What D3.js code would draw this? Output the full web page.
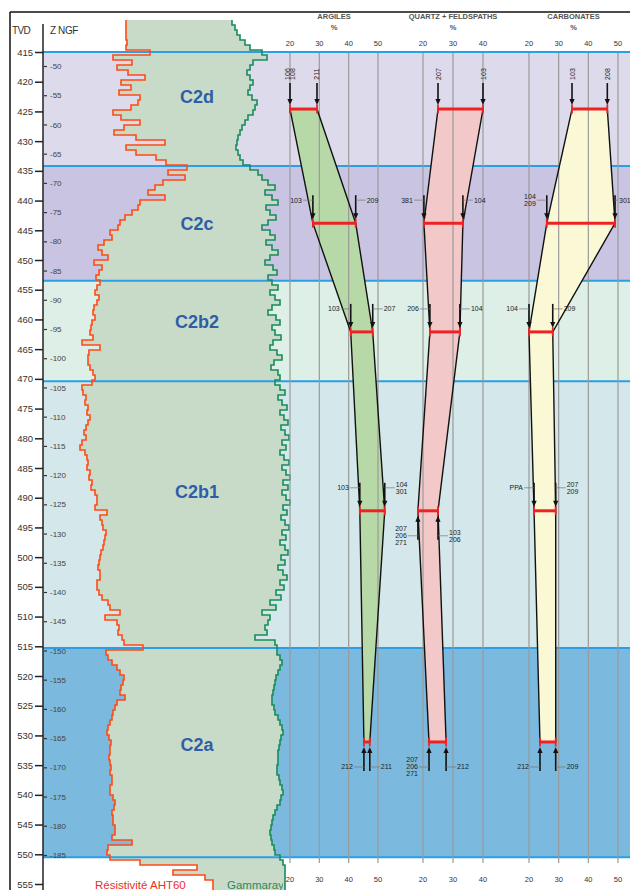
<!DOCTYPE html>
<html><head><meta charset="utf-8">
<script src="https://cdn.jsdelivr.net/npm/d3@7"></script>
<style>body{margin:0;background:#fff} svg{display:block;font-family:"Liberation Sans",Arial,sans-serif}</style>
</head><body><svg id="c" width="630" height="890"></svg>
<script>
// ---------------- DATA ----------------
const tvdTicks = [415,420,425,430,435,440,445,450,455,460,465,470,475,480,485,490,495,500,505,510,515,520,525,530,535,540,545,550,555];
const zngfTicks = [-50,-55,-60,-65,-70,-75,-80,-85,-90,-95,-100,-105,-110,-115,-120,-125,-130,-135,-140,-145,-150,-155,-160,-165,-170,-175,-180,-185];
const zoneNames = ["C2d","C2c","C2b2","C2b1","C2a"];
const zoneTops  = [415, 434.2, 453.5, 470.4, 515.3];
const zoneBases = [434.2, 453.5, 470.4, 515.3, 550.5];
const zoneLabelDepth = [422.6, 443.9, 460.4, 489.0, 531.6];

// well logs, regular sampling
const logTop = 409.62, logStep = 0.8413;
const resistivity = [
 46,46,46,46,47,46,70,33,52,37, 48,65,41,51,39,60,58,51,33,41,
 60,44,34,56,85,46,56,76,86,107, 88,105,83,75,68,85,60,58,52,45,
 40,38,30,32,24,18,22,28,14,22, 19,16,20,17,15,19,17,14,13,15,
 12,11,10,13,2,20,9,8,8,10, 13,15,12,2,3,6,5,8,7,10,
 8,6,4,6,2,0,5,7,8,7, 10,9,12,11,15,17,17,15,27,20,
 22,23,26,25,24,23,21,20,19,18, 20,20,17,17,19,22,28,30,40,25,
 37,39,38,42,44,63,26,28,32,37, 40,44,43,41,40,45,37,35,33,32,
 30,28,27,29,31,30,30,29,30,31, 30,32,32,30,30,33,35,34,32,33,
 33,35,35,32,52,28,27,30,60,117, 93,125,133,133,133];
const gammaray = [
 87,90,92,95,100,105,117,122,108,105, 102,105,108,105,103,107,112,110,108,103,
 100,97,95,93,92,91,93,95,98,105, 113,117,123,130,120,127,133,121,125,131,
 123,117,125,130,121,127,133,125,120,128, 132,123,127,133,125,130,135,127,123,131,
 135,127,130,136,128,125,132,137,129,126, 133,135,130,135,140,133,137,142,135,139,
 143,136,140,144,137,141,135,139,144,137, 141,145,138,143,137,141,145,138,142,136,
 140,144,137,141,135,140,143,136,140,133, 138,142,135,139,131,136,125,131,117,125,
 123,120,122,110,130,132,132,135,137,135, 133,131,130,129,128,127,127,129,130,133,
 135,137,138,136,135,134,133,133,133,132, 132,134,135,137,138,136,135,132,130,128,
 127,126,125,126,127,129,130,135,138,140, 140,140,140,140,140];

// mineralogy ranges at sampled depths
const sampleDepths = [424.6, 443.8, 462.1, 492.2, 531.1];
const argilesMin = [20, 27.8, 40.7, 43.8, 45.2];
const argilesMax = [29.2, 42.4, 48.2, 52.3, 47.2];
const quartzMin  = [25, 20.3, 22.3, 18.3, 22];
const quartzMax  = [40, 33.3, 32.3, 25, 27.7];
const carbMin    = [34.5, 26, 20, 21.7, 23.7];
const carbMax    = [46.4, 49, 28, 29, 29];
const argTicks = [20,30,40,50], qzTicks = [20,30,40], carbTicks = [20,30,40,50];

// sample annotations: mineral, sample index, side, arrow direction, labels
const annotations = [
 {m:"arg",s:0,side:"min",dir:"down",t:["106","108"]},
 {m:"arg",s:0,side:"max",dir:"down",t:["211"]},
 {m:"qz",s:0,side:"min",dir:"down",t:["207"]},
 {m:"qz",s:0,side:"max",dir:"down",t:["103"]},
 {m:"carb",s:0,side:"min",dir:"down",t:["103"]},
 {m:"carb",s:0,side:"max",dir:"down",t:["208"]},
 {m:"arg",s:1,side:"min",dir:"down",t:["103"]},
 {m:"arg",s:1,side:"max",dir:"down",t:["209"]},
 {m:"qz",s:1,side:"min",dir:"down",t:["381"]},
 {m:"qz",s:1,side:"max",dir:"down",t:["104"]},
 {m:"carb",s:1,side:"min",dir:"down",t:["104","209"]},
 {m:"carb",s:1,side:"max",dir:"down",t:["301"]},
 {m:"arg",s:2,side:"min",dir:"down",t:["103"]},
 {m:"arg",s:2,side:"max",dir:"down",t:["207"]},
 {m:"qz",s:2,side:"min",dir:"down",t:["206"]},
 {m:"qz",s:2,side:"max",dir:"down",t:["104"]},
 {m:"carb",s:2,side:"min",dir:"down",t:["104"]},
 {m:"carb",s:2,side:"max",dir:"down",t:["209"]},
 {m:"arg",s:3,side:"min",dir:"down",t:["103"]},
 {m:"arg",s:3,side:"max",dir:"down",t:["104","301"]},
 {m:"qz",s:3,side:"min",dir:"up",t:["207","206","271"]},
 {m:"qz",s:3,side:"max",dir:"up",t:["103","206"]},
 {m:"carb",s:3,side:"min",dir:"down",t:["PPA"]},
 {m:"carb",s:3,side:"max",dir:"down",t:["207","209"]},
 {m:"arg",s:4,side:"min",dir:"up",t:["212"]},
 {m:"arg",s:4,side:"max",dir:"up",t:["211"]},
 {m:"qz",s:4,side:"min",dir:"up",t:["207","206","271"]},
 {m:"qz",s:4,side:"max",dir:"up",t:["212"]},
 {m:"carb",s:4,side:"min",dir:"up",t:["212"]},
 {m:"carb",s:4,side:"max",dir:"up",t:["209"]}
];

// ---------------- DRAW ----------------
const W = 630, H = 890;
const svg = d3.select("#c");
const y  = d3.scaleLinear().domain([415, 555]).range([52, 884]);
const yz = d3.scaleLinear().domain([-50, -185]).range([66, 855]);
const xArg  = d3.scaleLinear().domain([20, 50]).range([290, 378]);
const xQz   = d3.scaleLinear().domain([20, 40]).range([423, 483]);
const xCarb = d3.scaleLinear().domain([20, 50]).range([529, 618]);
const xRes = d3.scaleLinear().domain([0, 200]).range([80, 280]);
const xGr  = d3.scaleLinear().domain([0, 150]).range([145, 295]);
const zoneColors = ["#dddaec", "#c9c4e1", "#ddefe6", "#d4e7eb", "#7cb9df"];

svg.append("rect").attr("width", W).attr("height", H).attr("fill", "#fff");

// zone bands
zoneTops.forEach((t, i) => {
  svg.append("rect").attr("x", 43).attr("y", y(t)).attr("width", W - 43)
    .attr("height", y(zoneBases[i]) - y(t)).attr("fill", zoneColors[i]);
});

// log track
const logData = resistivity.map((r, i) => ({d: logTop + i * logStep, r, g: gammaray[i]}));
svg.append("path").datum(logData)
  .attr("d", d3.area().curve(d3.curveStepBefore).y(p => y(p.d)).x0(p => xRes(p.r)).x1(p => xGr(p.g)))
  .attr("fill", "#c8dbc9");

// boundaries
zoneTops.concat([zoneBases[zoneBases.length - 1]]).forEach(t => {
  svg.append("line").attr("x1", 43).attr("x2", W).attr("y1", y(t)).attr("y2", y(t))
    .attr("stroke", "#2a9fe6").attr("stroke-width", 2);
});

svg.append("path").datum(logData)
  .attr("d", d3.line().curve(d3.curveStepBefore).y(p => y(p.d)).x(p => xRes(p.r)))
  .attr("fill", "none").attr("stroke", "#ff4a14").attr("stroke-width", 1.6);
svg.append("path").datum(logData)
  .attr("d", d3.line().curve(d3.curveStepBefore).y(p => y(p.d)).x(p => xGr(p.g)))
  .attr("fill", "none").attr("stroke", "#188c5c").attr("stroke-width", 1.6);

// zone labels
zoneNames.forEach((n, i) => {
  svg.append("text").attr("x", 197).attr("y", y(zoneLabelDepth[i]) + 6)
    .attr("text-anchor", "middle").attr("font-size", 18).attr("font-weight", "bold")
    .attr("fill", "#2f5ea6").text(n);
});

// frame & axes
svg.append("line").attr("x1", 10).attr("x2", W).attr("y1", 12).attr("y2", 12).attr("stroke", "#111").attr("stroke-width", 1.5);
svg.append("line").attr("x1", 10).attr("x2", 10).attr("y1", 12).attr("y2", H).attr("stroke", "#111").attr("stroke-width", 1.5);
svg.append("line").attr("x1", 43).attr("x2", 43).attr("y1", 24).attr("y2", H).attr("stroke", "#222").attr("stroke-width", 1.5);
svg.append("text").attr("x", 12).attr("y", 34).attr("font-size", 10).attr("fill", "#333").attr("letter-spacing", -0.6).text("TVD");
svg.append("text").attr("x", 50).attr("y", 34).attr("font-size", 10).attr("fill", "#333").attr("letter-spacing", -0.4).text("Z NGF");

const tvdAxis = d3.axisLeft(y).tickValues(tvdTicks).tickSize(8).tickFormat(d3.format("d"));
const gT = svg.append("g").attr("transform", "translate(43,0)").call(tvdAxis);
gT.select(".domain").remove();
gT.selectAll("line").attr("stroke", "#222").attr("stroke-width", 1.5);
gT.selectAll("text").attr("font-size", 9.5).attr("fill", "#333").attr("x", -10).attr("font-family", "Liberation Sans, Arial, sans-serif");

const zAxis = d3.axisRight(yz).tickValues(zngfTicks).tickSize(3).tickPadding(3).tickFormat(d => d3.format("d")(d).replace("−", "-"));
const gZ = svg.append("g").attr("transform", "translate(44,0)").call(zAxis);
gZ.select(".domain").remove();
gZ.selectAll("line").attr("stroke", "#333").attr("stroke-width", 1.2);
gZ.selectAll("text").attr("font-size", 8).attr("fill", "#444").attr("font-family", "Liberation Sans, Arial, sans-serif");

// bottom log captions
svg.append("clipPath").attr("id", "lc").append("rect").attr("x", 43).attr("y", 0).attr("width", 240).attr("height", H);
svg.append("text").attr("x", 95).attr("y", 889).attr("font-size", 11.5).attr("fill", "#e8302a").text("Résistivité AHT60");
svg.append("text").attr("x", 227).attr("y", 889).attr("font-size", 11.5).attr("fill", "#2a8a5c").attr("clip-path", "url(#lc)").text("Gammaray");

// mineral panels
const minerals = {
  arg:  {sc: xArg,  min: argilesMin, max: argilesMax, ticks: argTicks,  fill: "#b7d9a7", title: "ARGILES"},
  qz:   {sc: xQz,   min: quartzMin,  max: quartzMax,  ticks: qzTicks,   fill: "#f3c8c8", title: "QUARTZ + FELDSPATHS"},
  carb: {sc: xCarb, min: carbMin,    max: carbMax,    ticks: carbTicks, fill: "#fbf8d6", title: "CARBONATES"}
};
const gridTop = 53, gridBot = 863;

Object.values(minerals).forEach(M => {
  const pts = sampleDepths.map((d, i) => [M.sc(M.min[i]), y(d)])
    .concat(sampleDepths.map((d, i) => [M.sc(M.max[i]), y(d)]).reverse());
  M.poly = pts;
  svg.append("path").attr("d", d3.line()(pts) + "Z").attr("fill", M.fill);
});
Object.values(minerals).forEach(M => {
  M.ticks.forEach(t => {
    svg.append("line").attr("x1", M.sc(t)).attr("x2", M.sc(t)).attr("y1", gridTop).attr("y2", gridBot)
      .attr("stroke", "#9a9a9a").attr("stroke-width", 1.2);
    svg.append("text").attr("x", M.sc(t)).attr("y", 46).attr("text-anchor", "middle").attr("font-size", 7.5).attr("fill", "#333").text(t);
    svg.append("text").attr("x", M.sc(t)).attr("y", 882).attr("text-anchor", "middle").attr("font-size", 7.5).attr("fill", "#333").text(t);
  });
  const mid = (M.sc(M.ticks[0]) + M.sc(M.ticks[M.ticks.length - 1])) / 2;
  svg.append("text").attr("x", mid).attr("y", 19).attr("text-anchor", "middle").attr("font-size", 7.5).attr("font-weight", "bold").attr("fill", "#555").text(M.title);
  svg.append("text").attr("x", mid).attr("y", 30).attr("text-anchor", "middle").attr("font-size", 7.5).attr("font-weight", "bold").attr("fill", "#555").text("%");
  svg.append("path").attr("d", d3.line()(M.poly) + "Z").attr("fill", "none").attr("stroke", "#111").attr("stroke-width", 1.4);
  sampleDepths.forEach((d, i) => {
    const x1 = M.sc(M.min[i]), x2 = M.sc(M.max[i]), yy = y(d);
    svg.append("line").attr("x1", x1).attr("x2", x2).attr("y1", yy).attr("y2", yy).attr("stroke", "#ee2222").attr("stroke-width", 3);
    [x1, x2].forEach(xx => svg.append("line").attr("x1", xx).attr("x2", xx).attr("y1", yy - 4.5).attr("y2", yy + 4.5).attr("stroke", "#ee2222").attr("stroke-width", 1.8));
  });
});

// annotations
annotations.forEach(a => {
  const M = minerals[a.m];
  const x = M.sc(a.side === "min" ? M.min[a.s] : M.max[a.s]);
  const by = y(sampleDepths[a.s]);
  let y1, y2;
  if (a.dir === "down") { y1 = by - (a.s === 0 ? 26 : 28); y2 = by - 4; }
  else { y1 = by + 29; y2 = by + 5; }
  const dirv = y2 > y1 ? 1 : -1;
  svg.append("line").attr("x1", x).attr("x2", x).attr("y1", y1).attr("y2", y2 - 5 * dirv).attr("stroke", "#111").attr("stroke-width", 1.6);
  svg.append("path").attr("d", `M${x},${y2} L${x - 2.6},${y2 - 6 * dirv} L${x + 2.6},${y2 - 6 * dirv} Z`).attr("fill", "#111");
  const n = a.t.length;
  if (a.s === 0) {
    a.t.forEach((t, j) => {
      const tx = x + (j - (n - 1) / 2) * 5 + 2.5, ty = by - 35;
      svg.append("text").attr("transform", `translate(${tx},${ty}) rotate(-90)`).attr("text-anchor", "middle")
        .attr("font-size", 7).attr("fill", "#222").text(t);
    });
  } else {
    const ly = a.dir === "down" ? by - 23 : by + 25;
    const left = a.side === "min";
    // keep labels inside the picture's right edge
    const off = (!left && x + 11 + 12 > W) ? 4 : 11;
    svg.append("line").attr("x1", left ? x - 10 : x).attr("x2", left ? x : x + off - 1).attr("y1", ly).attr("y2", ly)
      .attr("stroke", "#777").attr("stroke-width", 0.7);
    a.t.forEach((t, j) => {
      svg.append("text").attr("x", left ? x - 11 : x + off).attr("y", ly + (j - (n - 1) / 2) * 7 + 2.5)
        .attr("text-anchor", left ? "end" : "start").attr("font-size", 7).attr("fill", "#222").text(t);
    });
  }
});
</script></body></html>
